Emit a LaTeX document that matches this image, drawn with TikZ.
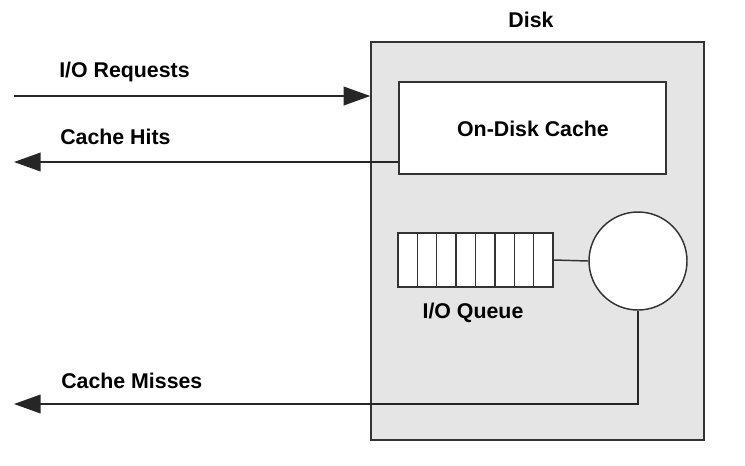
\documentclass[tikz,border=0pt]{standalone}
\usepackage{fontspec}
\setmainfont{Liberation Sans}
\usetikzlibrary{arrows.meta, positioning}

\begin{document}
\begin{tikzpicture}[x=0.75pt,y=0.75pt,yscale=-1,xscale=1,
  lbl/.style={inner sep=0pt, font=\fontsize{16}{19}\selectfont\bfseries},
  box/.style={draw=black!80, line width=1.1pt, inner sep=0pt},
  arr/.style={draw=black!85, line width=1.3pt, -{Triangle[length=20pt, width=14pt]}}]
\useasboundingbox (0,0) rectangle (745,465);

%Shape: Rectangle [disk]
\node (disk) [box, fill=black!10, minimum width=249.75pt, minimum height=298.5pt] at (537.5,241) {};
%Shape: Rectangle [cache]
\node (cache) [box, fill=white, minimum width=200.25pt, minimum height=69pt] at (532.5,128) {};
%Shape: Queue cells
\foreach \i in {1,...,8}
  \node (q\i) [box, fill=white, minimum width=14.53pt, minimum height=40.5pt] at ({398+19.375*(\i-0.5)},260) {};
%Shape: Circle [server]
\node (server) [box, circle, fill=white, minimum size=73.5pt] at (638,261) {};

\coordinate (reqstart) at (14,96);
\coordinate (hitsend) at (14,162);
\coordinate (missend) at (14,404);

%Straight Lines
\draw [arr] (reqstart) -- (reqstart -| disk.west);
\draw [arr] (cache.west |- hitsend) -- (hitsend);
\draw [box] (q8.east) -- (server.west);
\draw [arr] (server.south) |- (missend);

% Text Node
\node (disklbl) [lbl] at (531,20) {Disk};
% Text Node
\node (cachelbl) [lbl] at (533,129) {On-Disk Cache};
% Text Node
\node (queuelbl) [lbl] at (473,313) {I/O Queue};
% Text Node
\node (reqlbl) [lbl, anchor=west] at (59,72) {I/O Requests};
% Text Node
\node (hitslbl) [lbl, anchor=west] at (60,137) {Cache Hits};
% Text Node
\node (misslbl) [lbl, anchor=west] at (61,381) {Cache Misses};

\end{tikzpicture}
\end{document}
